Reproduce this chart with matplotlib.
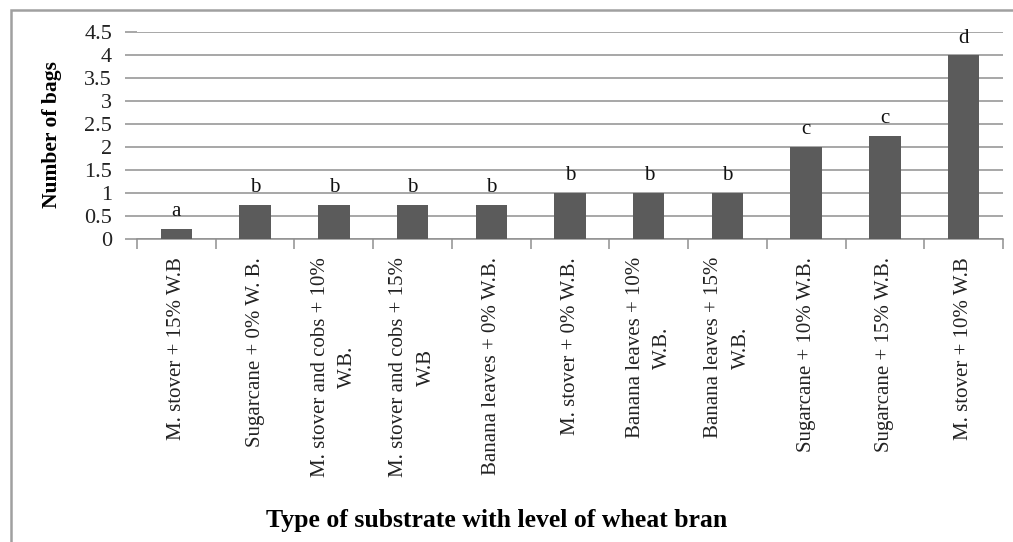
import numpy as np
import matplotlib
matplotlib.use("Agg")
import matplotlib.pyplot as plt
from matplotlib.patches import Rectangle

# Substrates, mean number of bags, and the significance letters
substrates = [
    "M. stover + 15% W.B",
    "Sugarcane + 0% W. B.",
    "M. stover and cobs + 10%\nW.B.",
    "M. stover and cobs + 15%\nW.B",
    "Banana leaves + 0% W.B.",
    "M. stover + 0% W.B.",
    "Banana leaves + 10%\nW.B.",
    "Banana leaves + 15%\nW.B.",
    "Sugarcane + 10% W.B.",
    "Sugarcane + 15% W.B.",
    "M. stover + 10% W.B",
]
bags = [0.22, 0.75, 0.75, 0.75, 0.75, 1.0, 1.0, 1.0, 2.0, 2.25, 4.0]
letters = ["a", "b", "b", "b", "b", "b", "b", "b", "c", "c", "d"]
yticks = [0, 0.5, 1, 1.5, 2, 2.5, 3, 3.5, 4, 4.5]

plt.rcParams['font.family'] = ['Liberation Serif', 'DejaVu Serif']

W, H = 1013, 542
fig = plt.figure(figsize=(W / 100, H / 100), dpi=100)
ax = fig.add_axes([137 / W, 1 - 239 / H, (1003 - 137) / W, (239 - 32) / H])

x = np.arange(len(substrates))
ax.bar(x, bags, width=0.4, color='#5b5b5b', zorder=3)

for xi, v, s in zip(x, bags, letters):
    ax.annotate(s, (xi, v), xytext=(0, 9), textcoords='offset points',
                ha='center', va='baseline', fontsize=15, color='#111111')

ax.set_xlim(-0.5, len(substrates) - 0.5)
ax.set_ylim(0, 4.5)
ax.set_yticks(yticks)
ax.set_yticklabels([f"{t:g}" for t in yticks], fontsize=16, color='#222222')
ax.yaxis.grid(True, color='#909090', linewidth=1.1, zorder=0)
ax.tick_params(axis='y', length=9, color='#909090', width=1.1, pad=9)

ax.set_xticks(x)
ax.set_xticklabels(substrates, rotation=90, fontsize=15, color='#222222',
                   multialignment='center', linespacing=1.6)
ax.tick_params(axis='x', length=0, pad=13)
ax.set_xticks(np.arange(-0.5, len(substrates)), minor=True)
ax.tick_params(axis='x', which='minor', length=7, color='#909090', width=1.1)

for side in ['top', 'right', 'left']:
    ax.spines[side].set_visible(False)
ax.spines['bottom'].set_color('#909090')
ax.spines['bottom'].set_linewidth(1.1)

fig.text(52 / W, 1 - 135 / H, "Number of bags", rotation=90, ha='center',
         va='center', fontsize=15.5, fontweight='bold')
fig.text(497 / W, 1 - 520 / H, "Type of substrate with level of wheat bran",
         ha='center', va='center', fontsize=18.5, fontweight='bold')

# chart area border (only top and left edges fall inside the image)
fig.patches.append(Rectangle((11 / W, -0.1), 1.2, 1 - 10 / H + 0.1,
                             transform=fig.transFigure, fill=False,
                             edgecolor='#a0a0a0', linewidth=1.8))

fig.savefig("out.png", dpi=100)
